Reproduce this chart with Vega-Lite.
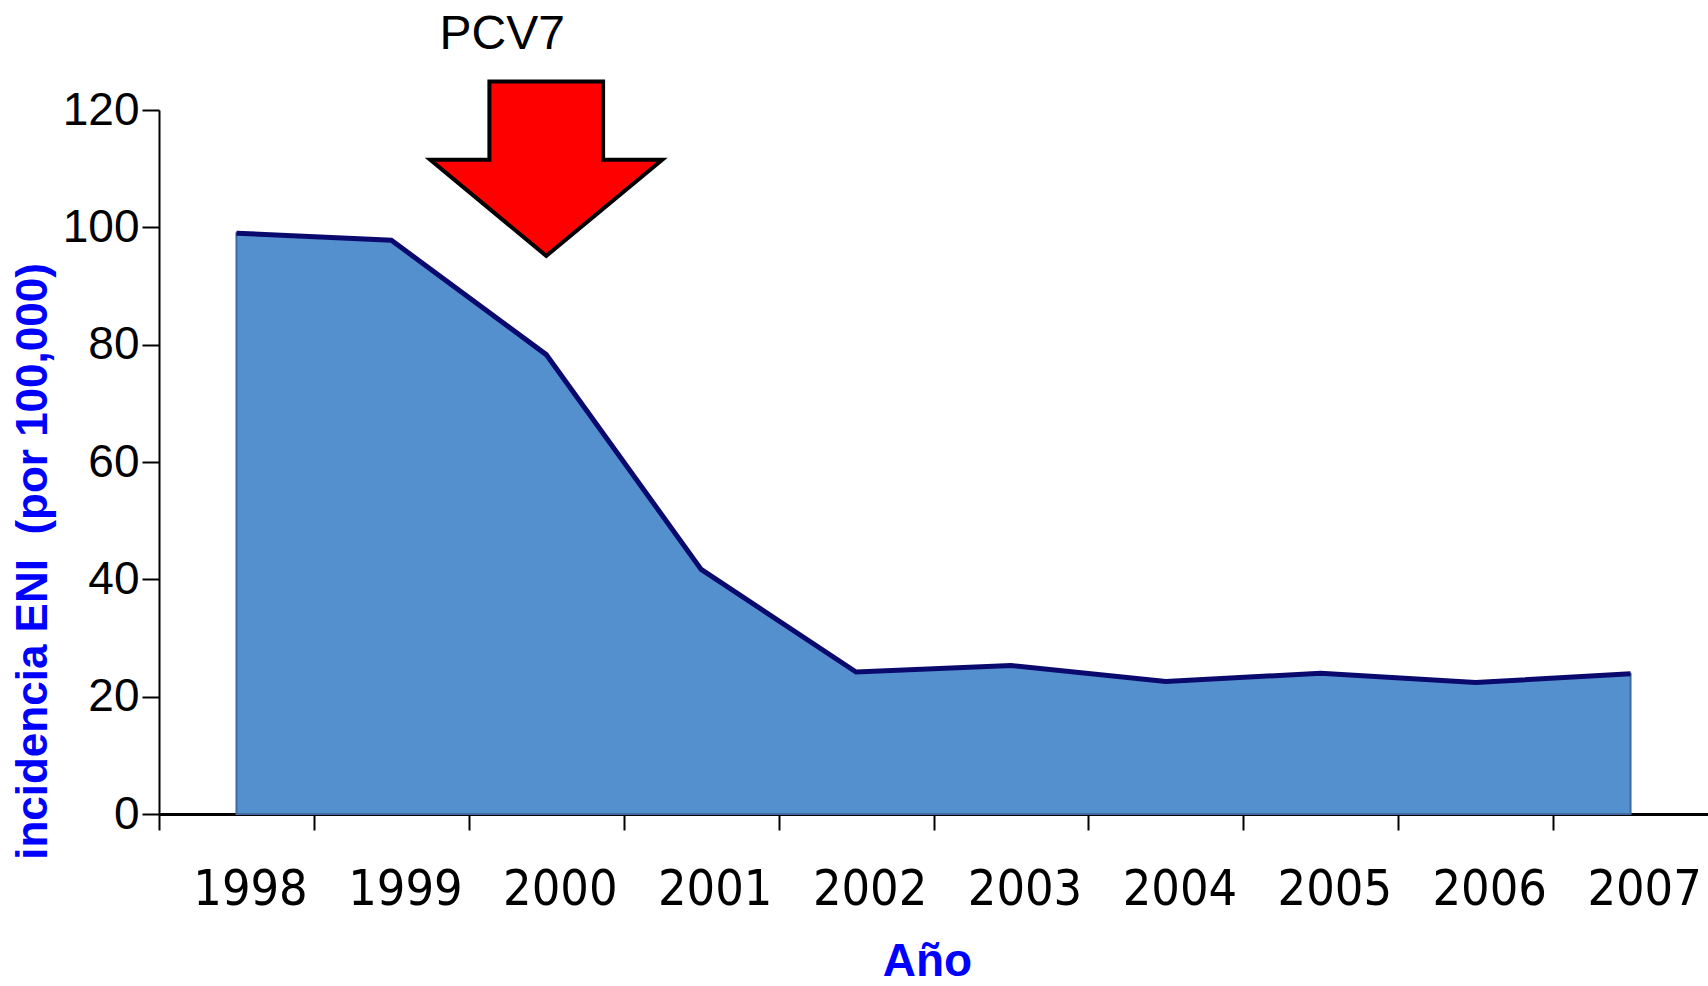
{
  "$schema": "https://vega.github.io/schema/vega-lite/v6.json",
  "autosize": {"type": "none"},
  "padding": {"left": 159, "top": 110, "right": 0, "bottom": 172},
  "width": 1549,
  "height": 704,
  "background": "white",
  "datasets": {
    "incidence": [
      {"year": 1998, "value": 99.0},
      {"year": 1999, "value": 97.8},
      {"year": 2000, "value": 78.3},
      {"year": 2001, "value": 41.7},
      {"year": 2002, "value": 24.2},
      {"year": 2003, "value": 25.3},
      {"year": 2004, "value": 22.6},
      {"year": 2005, "value": 24.0},
      {"year": 2006, "value": 22.4},
      {"year": 2007, "value": 23.9}
    ],
    "annotation": [
      {"year": 2000, "value": 110, "label": "PCV7"}
    ]
  },
  "encoding": {
    "x": {
      "field": "year",
      "type": "quantitative",
      "scale": {"domain": [1997.5, 2007.5], "nice": false, "zero": false},
      "axis": {
        "values": [1997.5, 1998.5, 1999.5, 2000.5, 2001.5, 2002.5, 2003.5, 2004.5, 2005.5, 2006.5],
        "labelExpr": "format(datum.value + 0.5, 'd')",
        "labelOffset": 91,
        "labelPadding": 34,
        "labelFont": "Liberation Sans Narrow, DejaVu Sans Condensed, Liberation Sans, sans-serif",
        "labelFontSize": 50,
        "labelColor": "black",
        "labelFlush": false,
        "labelOverlap": false,
        "labelBound": false,
        "domainColor": "black",
        "domainWidth": 3,
        "tickColor": "black",
        "tickWidth": 2,
        "tickSize": 16,
        "grid": false,
        "title": "Año",
        "titleFont": "Liberation Sans",
        "titleFontWeight": "bold",
        "titleFontSize": 46,
        "titleColor": "#0000FF",
        "titleX": 768,
        "titleY": 161,
        "titleAlign": "center",
        "titleBaseline": "alphabetic"
      }
    },
    "y": {
      "field": "value",
      "type": "quantitative",
      "scale": {"domain": [0, 120], "nice": false},
      "axis": {
        "values": [0, 20, 40, 60, 80, 100, 120],
        "labelFont": "Liberation Sans",
        "labelFontSize": 46,
        "labelColor": "black",
        "labelPadding": 3,
        "labelFlush": false,
        "domainColor": "black",
        "domainWidth": 2,
        "tickColor": "black",
        "tickWidth": 2,
        "tickSize": 17,
        "grid": false,
        "title": "incidencia ENI \u00a0(por 100,000)",
        "titleFont": "Liberation Sans",
        "titleFontWeight": "bold",
        "titleFontSize": 44,
        "titleColor": "#0000FF",
        "titleAngle": -90,
        "titleX": -126,
        "titleY": 451,
        "titleAlign": "center",
        "titleBaseline": "middle"
      }
    }
  },
  "layer": [
    {
      "data": {"name": "incidence"},
      "mark": {"type": "area", "color": "#5590CE", "stroke": "#3E6C9E", "strokeWidth": 2, "opacity": 1}
    },
    {
      "data": {"name": "incidence"},
      "mark": {"type": "line", "color": "#0A0A6E", "strokeWidth": 5, "strokeJoin": "miter"}
    },
    {
      "data": {"name": "annotation"},
      "mark": {
        "type": "point",
        "shape": "M-0.49,-0.752L0.49,-0.752L0.49,-0.076L1,-0.076L0,0.752L-1,-0.076L-0.49,-0.076Z",
        "size": 53824,
        "filled": true,
        "fill": "#FF0000",
        "stroke": "black",
        "strokeWidth": 4,
        "opacity": 1,
        "fillOpacity": 1,
        "strokeJoin": "miter"
      }
    },
    {
      "data": {"name": "annotation"},
      "mark": {
        "type": "text",
        "dx": -44,
        "dy": -134,
        "align": "center",
        "baseline": "middle",
        "font": "Liberation Sans",
        "fontSize": 48,
        "color": "black"
      },
      "encoding": {"text": {"field": "label"}}
    }
  ],
  "config": {"view": {"stroke": null}}
}
